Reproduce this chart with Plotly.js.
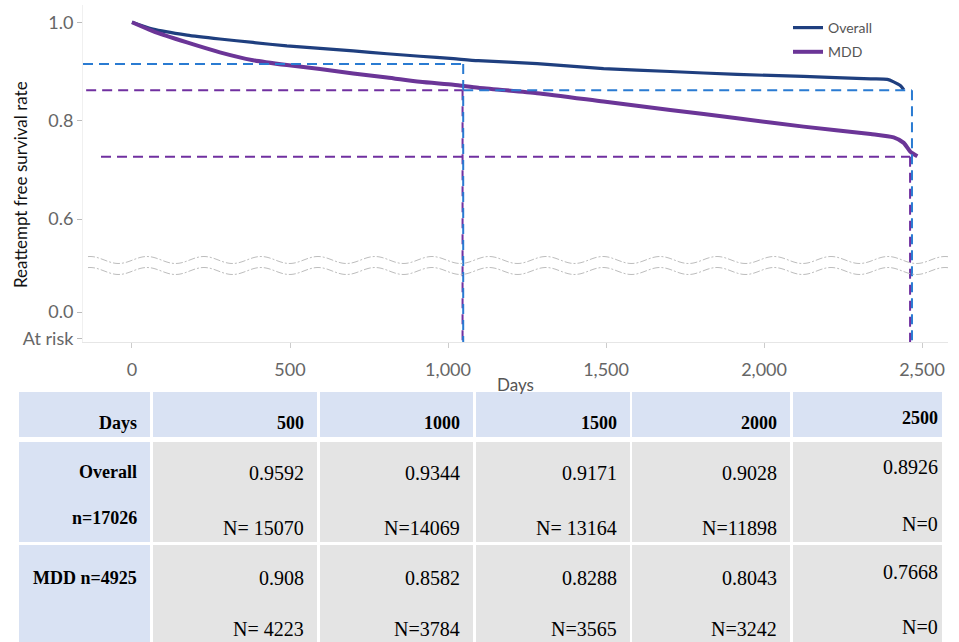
<!DOCTYPE html>
<html>
<head>
<meta charset="utf-8">
<script src="https://cdn.plot.ly/plotly-3.0.1.min.js"></script>
<style>html,body{margin:0;padding:0;background:#fff;}#chart{width:959px;height:642px;}</style>
</head>
<body>
<div id="chart"></div>
<script>
// ---------- data ----------
const overallDays = [0, 66, 174, 278, 383, 490, 595, 700, 807, 911, 1017, 1096, 1282, 1492, 1703, 1915, 2125, 2337, 2390, 2410, 2432, 2442];
const overallSurvival = [1.0, 0.986, 0.974, 0.966, 0.959, 0.952, 0.947, 0.942, 0.936, 0.931, 0.926, 0.922, 0.916, 0.906, 0.900, 0.894, 0.890, 0.885, 0.884, 0.879, 0.871, 0.863];
const mddDays = [0, 66, 174, 278, 383, 490, 595, 700, 807, 911, 1017, 1096, 1282, 1492, 1703, 1915, 2125, 2337, 2410, 2442, 2463, 2485];
const mddSurvival = [1.0, 0.982, 0.959, 0.939, 0.923, 0.913, 0.905, 0.896, 0.888, 0.879, 0.873, 0.867, 0.856, 0.839, 0.822, 0.805, 0.788, 0.773, 0.766, 0.755, 0.737, 0.728];
const seriesNames = ['Overall', 'MDD'];

// dashed reference lines
const refDaysOverall = [1048, 2468];
const refLevelsOverall = [0.915, 0.862];
const refDaysMDD = [1046, 2462];
const refLevelsMDD = [0.862, 0.727];
const refStartDays = [-155, -145, -98];

// axes
const xTickVals = [0, 500, 1000, 1500, 2000, 2500];
const yTickVals = [1.0, 0.8, 0.6, 0.4112, 0.357];
const yTickText = ['1.0', '0.8', '0.6', '0.0', 'At risk'];

// table
const tableHeaderLabel = 'Days';
const tableDays = ['500', '1000', '1500', '2000', '2500'];
const overallLabel = ['Overall', 'n=17026'];
const overallTableSurv = ['0.9592', '0.9344', '0.9171', '0.9028', '0.8926'];
const overallTableN = ['N= 15070', 'N=14069', 'N= 13164', 'N=11898', 'N=0'];
const mddLabel = 'MDD n=4925';
const mddTableSurv = ['0.908', '0.8582', '0.8288', '0.8043', '0.7668'];
const mddTableN = ['N= 4223', 'N=3784', 'N=3565', 'N=3242', 'N=0'];

// ---------- layout helpers (pixel -> paper) ----------
const W = 959, H = 642;
const XL = 83, XR = 948, YT = 5, YB = 342;
const X_RANGE = [-155, 2582];
const Y_RANGE = [0.3505, 1.0351];
function pxX(p) { return (p - XL) / (XR - XL); }
function pxY(p) { return (YB - p) / (YB - YT); }

const NAVY = '#1f3f7f', PURPLE = '#6b3597';
const DASH_BLUE = '#2a7bd2', DASH_PURPLE = '#7030a0';

const traces = [
  { x: overallDays, y: overallSurvival, name: seriesNames[0], legendgroup: 'g1', type: 'scatter', mode: 'lines',
    line: { color: NAVY, width: 3.2, shape: 'spline', smoothing: 0.6 }, hoverinfo: 'skip' },
  { x: mddDays, y: mddSurvival, name: seriesNames[1], legendgroup: 'g2', type: 'scatter', mode: 'lines',
    line: { color: PURPLE, width: 4, shape: 'spline', smoothing: 0.6 }, hoverinfo: 'skip' }
];

const shapes = [];
const dashStyle = '10px,6px';
function seg(x0, y0, x1, y1, color) {
  shapes.push({ type: 'line', xref: 'x', yref: 'y', x0: x0, y0: y0, x1: x1, y1: y1,
    line: { color: color, width: 2, dash: dashStyle }, layer: 'above' });
}
// overall (blue)
seg(refStartDays[0], refLevelsOverall[0], refDaysOverall[0], refLevelsOverall[0], DASH_BLUE);
seg(refDaysOverall[0], refLevelsOverall[1], refDaysOverall[1], refLevelsOverall[1], DASH_BLUE);
// MDD (purple)
seg(refStartDays[1], refLevelsMDD[0], refDaysMDD[0], refLevelsMDD[0], DASH_PURPLE);
seg(refStartDays[2], refLevelsMDD[1], refDaysMDD[1], refLevelsMDD[1], DASH_PURPLE);
seg(refDaysMDD[0], refLevelsMDD[0], refDaysMDD[0], Y_RANGE[0], DASH_PURPLE);
seg(refDaysMDD[1], refLevelsMDD[1], refDaysMDD[1], Y_RANGE[0], DASH_PURPLE);
seg(refDaysOverall[0], refLevelsOverall[0], refDaysOverall[0], Y_RANGE[0], DASH_BLUE);
seg(refDaysOverall[1], refLevelsOverall[1], refDaysOverall[1], Y_RANGE[0], DASH_BLUE);

// axis-break wavy lines (decoration)
function wavePath(centerPx) {
  const period = 57, amp = 3.5, start = 88, end = 948;
  let d = '';
  for (let p = start; p <= end; p += 2) {
    const yy = centerPx - amp * Math.cos(2 * Math.PI * (p - 90) / period);
    d += (p === start ? 'M' : 'L') + pxX(p).toFixed(5) + ',' + pxY(yy).toFixed(5);
  }
  return d;
}
[260, 271].forEach(c => shapes.push({ type: 'path', xref: 'paper', yref: 'paper', path: wavePath(c),
  line: { color: '#bdbdbd', width: 1, dash: '7px,2px,2px,2px' }, layer: 'above' }));

// table
const colL = [19, 153, 320, 476, 632, 793];
const colR = [150, 317, 473, 630, 790, 942];
const rowT = [392, 442, 545];
const rowB = [437, 542, 660];
const BLUE_CELL = '#d9e2f3', GRAY_CELL = '#e4e4e4';
for (let r = 0; r < 3; r++) {
  for (let c = 0; c < 6; c++) {
    shapes.push({ type: 'rect', xref: 'paper', yref: 'paper',
      x0: pxX(colL[c]), x1: pxX(colR[c]), y0: pxY(rowB[r]), y1: pxY(rowT[r]),
      fillcolor: (r === 0 || c === 0) ? BLUE_CELL : GRAY_CELL, line: { width: 0 }, layer: 'below' });
  }
}

const annotations = [];
const SERIF = 'Liberation Serif, Times New Roman, serif';
function cellText(text, c, yc, bold, size, anchor) {
  const pad = c === 5 ? 2 : 11;
  annotations.push({ xref: 'paper', yref: 'paper', x: pxX(colR[c] - pad), y: pxY(yc),
    xanchor: 'right', yanchor: anchor || 'middle', showarrow: false,
    text: bold ? '<b>' + text + '</b>' : text,
    font: { family: SERIF, size: size || 18, color: '#000' } });
}
cellText(tableHeaderLabel, 0, 423, true);
tableDays.forEach((d, i) => cellText(d, i + 1, i === 4 ? 418 : 423, true));
cellText(overallLabel[0], 0, 472, true);
cellText(overallLabel[1], 0, 518, true);
overallTableSurv.forEach((v, i) => cellText(v, i + 1, i === 4 ? 467 : 473, false, 20));
overallTableN.forEach((v, i) => cellText(v, i + 1, i === 4 ? 524 : 528, false, 20));
cellText(mddLabel, 0, 578, true);
mddTableSurv.forEach((v, i) => cellText(v, i + 1, i === 4 ? 572 : 578, false, 20));
mddTableN.forEach((v, i) => cellText(v, i + 1, i === 4 ? 640 : 642, false, 20, 'bottom'));

// y-axis title
annotations.push({ xref: 'paper', yref: 'paper', x: pxX(20), y: pxY(185), textangle: -90,
  xanchor: 'center', yanchor: 'middle', showarrow: false, text: 'Reattempt free survival rate',
  font: { family: 'Lato, sans-serif', size: 17, color: '#111' } });

const layout = {
  width: W, height: H,
  margin: { l: XL, r: W - XR, t: YT, b: H - YB, pad: 0 },
  paper_bgcolor: '#fff', plot_bgcolor: '#fff',
  showlegend: true,
  legend: { x: pxX(788), y: pxY(12), xanchor: 'left', yanchor: 'top', bgcolor: 'rgba(0,0,0,0)',
    traceorder: 'grouped', tracegroupgap: 3,
    font: { family: 'Lato, sans-serif', size: 14, color: '#555' } },
  xaxis: { range: X_RANGE, tickvals: xTickVals, tickformat: ',', showgrid: false, zeroline: false,
    showline: true, linecolor: '#e6e6e6', linewidth: 1, ticks: 'outside', ticklen: 5, tickcolor: '#cccccc',
    ticklabelstandoff: 6,
    tickfont: { family: 'Lato, sans-serif', size: 18, color: '#666' },
    title: { text: 'Days', standoff: 0, font: { family: 'Lato, sans-serif', size: 17, color: '#555' } } },
  yaxis: { range: Y_RANGE, tickvals: yTickVals, ticktext: yTickText, showgrid: false, zeroline: false,
    showline: true, linecolor: '#f0f0f0', linewidth: 1, ticks: 'outside', ticklen: 5, tickcolor: '#bbbbbb',
    tickfont: { family: 'Lato, sans-serif', size: 18, color: '#666' } },
  shapes: shapes,
  annotations: annotations
};

Plotly.newPlot('chart', traces, layout, { staticPlot: true, displayModeBar: false });
</script>
</body>
</html>
